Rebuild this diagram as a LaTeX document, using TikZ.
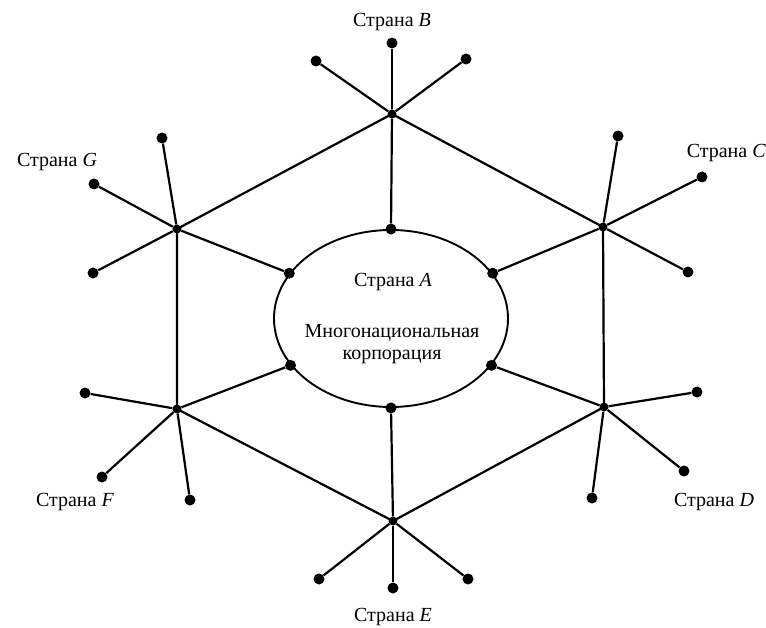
\documentclass[tikz,border=0pt]{standalone}
\usepackage{fontspec}
\setmainfont{Liberation Serif}
\usetikzlibrary{shapes.geometric}
\begin{document}
\begin{tikzpicture}[x=1pt,y=-1pt,
  enddot/.style={circle,fill=black,draw=none,inner sep=0pt,minimum size=11pt},
  hubdot/.style={circle,fill=black,draw=none,inner sep=0pt,minimum size=9pt},
  link/.style={line width=2.2pt,black},
  lbl/.style={font=\fontsize{20}{22}\selectfont,inner sep=0pt},
  corpbox/.style={ellipse,draw=black,line width=1.9pt,inner sep=0pt,minimum width=234pt,minimum height=177pt}]
\useasboundingbox (0,0) rectangle (766,628);
% central ellipse
\node[corpbox] (corp) at (391,318.5) {};
\node[lbl] (ta) at (393,282) {Страна \textit{A}};
\node[lbl] (tm1) at (392,333) {Многонациональная};
\node[lbl] (tm2) at (392,357) {корпорация};
% ellipse dots
\node[enddot] (eB) at (corp.north) {};
\node[enddot] (eE) at (corp.south) {};
\node[enddot] (eG) at (corp.156) {};
\node[enddot] (eC) at (corp.24) {};
\node[enddot] (eF) at (corp.205) {};
\node[enddot] (eD) at (corp.335) {};
% hubs
\node[hubdot] (hB) at (392,114) {};
\node[hubdot] (hC) at (603,227) {};
\node[hubdot] (hD) at (604,407) {};
\node[hubdot] (hE) at (393,521) {};
\node[hubdot] (hF) at (177,409) {};
\node[hubdot] (hG) at (177,229) {};
% end dots
\node[enddot] (b1) at (392,43) {};
\node[enddot] (b2) at (316,61) {};
\node[enddot] (b3) at (466,59) {};
\node[enddot] (c1) at (618,136) {};
\node[enddot] (c2) at (702,177) {};
\node[enddot] (c3) at (688,272) {};
\node[enddot] (d1) at (697,392) {};
\node[enddot] (d2) at (684,471) {};
\node[enddot] (d3) at (592,498) {};
\node[enddot] (e1) at (319,579) {};
\node[enddot] (e2) at (393,588) {};
\node[enddot] (e3) at (468,579) {};
\node[enddot] (f1) at (85,393) {};
\node[enddot] (f2) at (102,477) {};
\node[enddot] (f3) at (190,500) {};
\node[enddot] (g1) at (162,138) {};
\node[enddot] (g2) at (94,184) {};
\node[enddot] (g3) at (93,273) {};
% labels
\node[lbl] (lB) at (392,22) {Страна \textit{B}};
\node[lbl,anchor=east] (lC) at (766,153) {Страна \textit{C}};
\node[lbl] (lD) at (714,502) {Страна \textit{D}};
\node[lbl] (lE) at (393,617) {Страна \textit{E}};
\node[lbl] (lF) at (75,502) {Страна \textit{F}};
\node[lbl] (lG) at (57,162) {Страна \textit{G}};
% hexagon
\draw[link] (hB.center) -- (hC.center) -- (hD.center) -- (hE.center) -- (hF.center) -- (hG.center) -- cycle;
% spokes to ellipse
\draw[link] (hB) -- (eB);
\draw[link] (hC) -- (eC);
\draw[link] (hD) -- (eD);
\draw[link] (hE) -- (eE);
\draw[link] (hF) -- (eF);
\draw[link] (hG) -- (eG);
% outer spokes
\foreach \h/\a/\b/\c in {hB/b1/b2/b3,hC/c1/c2/c3,hD/d1/d2/d3,hE/e1/e2/e3,hF/f1/f2/f3,hG/g1/g2/g3}{
  \draw[link] (\h) -- (\a);
  \draw[link] (\h) -- (\b);
  \draw[link] (\h) -- (\c);
}
\end{tikzpicture}
\end{document}
